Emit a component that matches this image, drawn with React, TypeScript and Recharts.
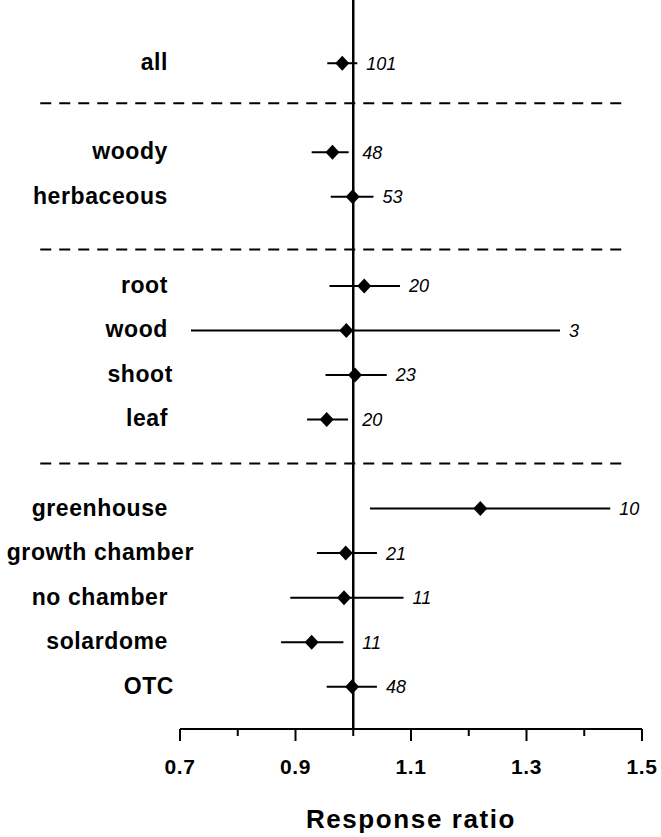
import React from 'react';
import {
  ScatterChart,
  Scatter,
  XAxis,
  YAxis,
  ErrorBar,
  ReferenceLine,
  Label,
} from 'recharts';

// groups, top to bottom (row index on the y scale)
const names = [
  'all',
  'woody', 'herbaceous',
  'root', 'wood', 'shoot', 'leaf',
  'greenhouse', 'growth chamber', 'no chamber', 'solardome', 'OTC',
];
const rows = [0, 2, 3, 5, 6, 7, 8, 10, 11, 12, 13, 14];
const means = [0.981, 0.964, 0.999, 1.019, 0.988, 1.003, 0.954, 1.22, 0.987, 0.984, 0.928, 0.998];
const lower = [0.955, 0.928, 0.961, 0.959, 0.719, 0.952, 0.92, 1.029, 0.937, 0.891, 0.875, 0.954];
const upper = [1.007, 0.992, 1.035, 1.081, 1.358, 1.058, 0.991, 1.445, 1.041, 1.087, 0.983, 1.041];
const counts = [101, 48, 53, 20, 3, 23, 20, 10, 21, 11, 11, 48];

// dashed separators between the blocks
const separators = [0.9, 4.18, 8.99];
const sepFrom = 0.458;
const sepTo = 1.471;

const xTicks = [0.7, 0.8, 0.9, 1.0, 1.1, 1.2, 1.3, 1.4, 1.5];

const points = names.map((name, i) => ({
  name,
  row: rows[i],
  x: means[i],
  err: [means[i] - lower[i], upper[i] - means[i]],
}));

// sample sizes go right of the interval, never left of the no-effect line
const countPoints = names.map((name, i) => ({
  row: rows[i],
  x: Math.max(upper[i], 1),
  n: counts[i],
}));

const FONT = '"Liberation Sans", Arial, Helvetica, sans-serif';

// a few labels sit off the common right edge
const labelNudge: Record<string, number> = { 'growth chamber': 26, shoot: 5, OTC: 6 };

const Diamond = (props: any) => {
  const { cx, cy } = props;
  if (cx == null || cy == null) return null;
  return (
    <polygon
      points={`${cx},${cy - 7.5} ${cx + 7},${cy} ${cx},${cy + 7.5} ${cx - 7},${cy}`}
      fill="#000"
    />
  );
};

const CountText = (props: any) => {
  const { cx, cy, payload } = props;
  if (cx == null || cy == null) return null;
  return (
    <text x={cx + 9} y={cy + 6.5} fontFamily={FONT} fontStyle="italic" fontSize={18} fill="#000">
      {payload.n}
    </text>
  );
};

const RowTick = (props: any) => {
  const { y, payload } = props;
  const idx = rows.indexOf(payload.value);
  if (idx < 0) return null;
  const name = names[idx];
  return (
    <text
      x={168 + (labelNudge[name] || 0)}
      y={y + 7}
      textAnchor="end"
      fontFamily={FONT}
      fontWeight="bold"
      fontSize={23}
      letterSpacing={0.6}
      fill="#000"
    >
      {name}
    </text>
  );
};

const RatioTick = (props: any) => {
  const { x, y, payload, index } = props;
  const major = index % 2 === 0;
  return (
    <g>
      <line x1={x} x2={x} y1={y - 8} y2={y - 8 + (major ? 12 : 7)} stroke="#000" strokeWidth={2} />
      {major && (
        <text
          x={x}
          y={y + 37}
          textAnchor="middle"
          fontFamily={FONT}
          fontWeight="bold"
          fontSize={21}
          letterSpacing={0.6}
          fill="#000"
        >
          {payload.value.toFixed(1)}
        </text>
      )}
    </g>
  );
};

export default function App() {
  return (
    <div style={{ position: 'absolute', left: 0, top: 0, background: '#fff' }}>
      <ScatterChart width={661} height={837} margin={{ top: 0, right: 19, bottom: 0, left: 0 }}>
        <XAxis
          type="number"
          dataKey="x"
          domain={[0.7, 1.5]}
          ticks={xTicks}
          interval={0}
          height={108}
          axisLine={{ stroke: '#000', strokeWidth: 2 }}
          tickLine={false}
          tick={<RatioTick />}
        >
          <Label
            content={(p: any) => {
              const vb = p.viewBox;
              return (
                <text
                  x={vb.x + vb.width / 2}
                  y={vb.y + 99}
                  textAnchor="middle"
                  fontFamily={FONT}
                  fontWeight="bold"
                  fontSize={26}
                  letterSpacing={1.6}
                  fill="#000"
                >
                  Response ratio
                </text>
              );
            }}
          />
        </XAxis>
        <YAxis
          type="number"
          dataKey="row"
          reversed
          domain={[-1.42, 14.95]}
          ticks={rows}
          interval={0}
          width={180}
          axisLine={false}
          tickLine={false}
          tick={<RowTick />}
        />
        <ReferenceLine x={1} stroke="#000" strokeWidth={2.5} />
        {separators.map((s) => (
          <ReferenceLine
            key={s}
            segment={[{ x: sepFrom, y: s }, { x: sepTo, y: s }]}
            stroke="#000"
            strokeWidth={2}
            strokeDasharray="11 8"
            ifOverflow="visible"
          />
        ))}
        <Scatter data={points} shape={<Diamond />} isAnimationActive={false}>
          <ErrorBar dataKey="err" direction="x" width={0} stroke="#000" strokeWidth={2} />
        </Scatter>
        <Scatter data={countPoints} shape={<CountText />} isAnimationActive={false} />
      </ScatterChart>
    </div>
  );
}
